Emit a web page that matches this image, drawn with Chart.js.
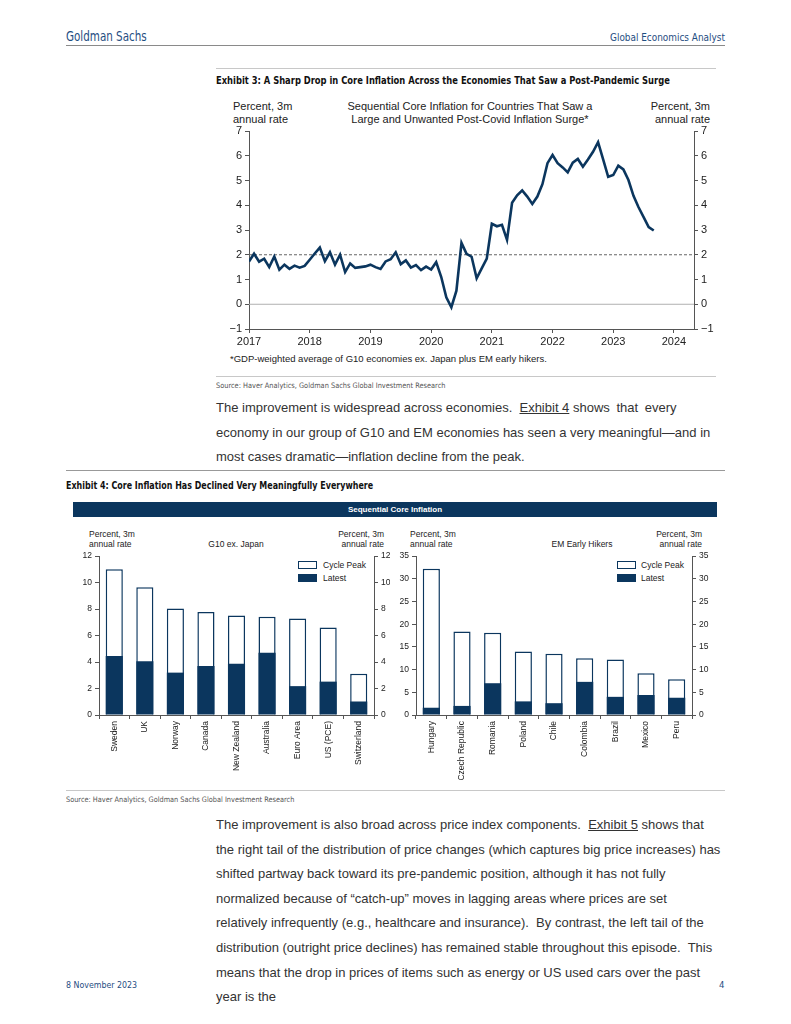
<!DOCTYPE html>
<html>
<head>
<meta charset="utf-8">
<script src="https://cdn.jsdelivr.net/npm/chart.js@4.4.0/dist/chart.umd.min.js"></script>
<style>
  body { margin:0; width:791px; height:1024px; position:relative; overflow:hidden; background:#fff;
         font-family:"Liberation Sans", Arial, sans-serif; color:#222; }
  .abs { position:absolute; white-space:nowrap; }
  .narrow { font-family:"DejaVu Sans Condensed", "Liberation Sans", sans-serif; transform-origin:0 50%; }
  .rule { position:absolute; height:0; }
  .body-text { font-size:13px; line-height:24.6px; color:#333; }
  .hd { font-size:11px; line-height:13px; color:#222; }
  .hd-s { font-size:8.5px; line-height:10px; color:#222; }
  .box { position:absolute; width:17px; height:6px; border:1px solid #0b365e; }
  canvas { position:absolute; }
  u { text-decoration:underline; }
</style>
</head>
<body>

<!-- page header -->
<div class="abs narrow" data-w="81" style="left:66px; top:28px; font-size:13.5px; color:#1f4e82;">Goldman Sachs</div>
<div class="abs narrow" data-w="115" style="left:610px; top:31px; font-size:10.5px; color:#1f4e82;">Global Economics Analyst</div>
<div class="rule" style="left:66px; top:45px; width:659px; border-top:1.5px solid #8a8a8a;"></div>

<!-- exhibit 3 -->
<div class="rule" style="left:216px; top:68px; width:500px; border-top:1px solid #c8c8c8;"></div>
<div class="abs narrow" data-w="454" style="left:216px; top:74px; font-size:11px; font-weight:bold; color:#111;">Exhibit 3: A Sharp Drop in Core Inflation Across the Economies That Saw a Post-Pandemic Surge</div>
<div class="abs hd" style="left:233px; top:100px;">Percent, 3m<br>annual rate</div>
<div class="abs hd" style="left:470px; top:100px; transform:translateX(-50%); text-align:center;">Sequential Core Inflation for Countries That Saw a<br>Large and Unwanted Post-Covid Inflation Surge*</div>
<div class="abs hd" style="right:81px; top:100px; text-align:right;">Percent, 3m<br>annual rate</div>
<canvas id="coreLine" width="500" height="229" style="left:216px; top:120px;"></canvas>
<div class="abs" style="left:230px; top:353px; font-size:9.5px; color:#222;">*GDP-weighted average of G10 economies ex. Japan plus EM early hikers.</div>
<div class="rule" style="left:216px; top:376px; width:500px; border-top:1px solid #c8c8c8;"></div>
<div class="abs narrow" data-w="229" style="left:216px; top:381px; font-size:7.5px; color:#555;">Source: Haver Analytics, Goldman Sachs Global Investment Research</div>

<div class="abs body-text" style="left:216px; top:396px;">The improvement is widespread across economies.&nbsp; <u>Exhibit 4</u> <span style="word-spacing:3px;">shows that every</span><br>economy in our group of G10 and EM economies has seen a very meaningful—and in<br>most cases dramatic—inflation decline from the peak.</div>

<!-- exhibit 4 -->
<div class="rule" style="left:66px; top:470px; width:659px; border-top:1px solid #999;"></div>
<div class="abs narrow" data-w="307" style="left:66px; top:479px; font-size:11px; font-weight:bold; color:#111;">Exhibit 4: Core Inflation Has Declined Very Meaningfully Everywhere</div>
<div class="abs" style="left:73px; top:502px; width:644px; height:15px; background:#0b365e; color:#fff; font-size:8px; font-weight:bold; line-height:15px; text-align:center;">Sequential Core Inflation</div>

<div class="abs hd-s" style="left:89px; top:529px;">Percent, 3m<br>annual rate</div>
<div class="abs hd-s" style="left:236px; top:539px; transform:translateX(-50%);">G10 ex. Japan</div>
<div class="abs hd-s" style="right:407px; top:529px; text-align:right;">Percent, 3m<br>annual rate</div>
<div class="box" style="left:298px; top:561px; background:#fff;"></div>
<div class="abs hd-s" style="left:323px; top:560px;">Cycle Peak</div>
<div class="box" style="left:298px; top:574px; background:#0b365e;"></div>
<div class="abs hd-s" style="left:323px; top:573px;">Latest</div>
<canvas id="g10Bars" width="324" height="237" style="left:66px; top:548px;"></canvas>

<div class="abs hd-s" style="left:410px; top:529px;">Percent, 3m<br>annual rate</div>
<div class="abs hd-s" style="left:582px; top:539px; transform:translateX(-50%);">EM Early Hikers</div>
<div class="abs hd-s" style="right:89px; top:529px; text-align:right;">Percent, 3m<br>annual rate</div>
<div class="box" style="left:617px; top:561px; background:#fff;"></div>
<div class="abs hd-s" style="left:641px; top:560px;">Cycle Peak</div>
<div class="box" style="left:617px; top:574px; background:#0b365e;"></div>
<div class="abs hd-s" style="left:641px; top:573px;">Latest</div>
<canvas id="emBars" width="330" height="237" style="left:390px; top:548px;"></canvas>

<div class="rule" style="left:66px; top:790px; width:659px; border-top:1px solid #c8c8c8;"></div>
<div class="abs narrow" data-w="228" style="left:66px; top:795px; font-size:7.5px; color:#555;">Source: Haver Analytics, Goldman Sachs Global Investment Research</div>

<div class="abs body-text" style="left:216px; top:813px;">The improvement is also broad across price index components.&nbsp; <u>Exhibit 5</u> shows that<br>the right tail of the distribution of price changes (which captures big price increases) has<br>shifted partway back toward its pre-pandemic position, although it has not fully<br>normalized because of “catch-up” moves in lagging areas where prices are set<br>relatively infrequently (e.g., healthcare and insurance).&nbsp; By contrast, the left tail of the<br>distribution (outright price declines) has remained stable throughout this episode.&nbsp; This<br>means that the drop in prices of items such as energy or US used cars over the past<br>year is the</div>

<!-- footer -->
<div class="abs narrow" data-w="71" style="left:66px; top:979px; font-size:9.5px; color:#1f4e82;">8 November 2023</div>
<div class="abs narrow" style="left:719px; top:979px; font-size:9.5px; color:#1f4e82;">4</div>

<script>
// Exhibit 3: monthly, Jan 2017 .. Sep 2023
const startYear = 2017;
const coreInflation = [
  1.73, 2.04, 1.72, 1.84, 1.50, 1.93, 1.40, 1.60, 1.43, 1.56, 1.48, 1.55,
  1.80, 2.05, 2.29, 1.74, 2.10, 1.60, 2.00, 1.30, 1.65, 1.47, 1.50, 1.53,
  1.60, 1.50, 1.43, 1.73, 1.82, 2.10, 1.62, 1.77, 1.48, 1.58, 1.38, 1.52,
  1.40, 1.70, 1.10, 0.28, -0.12, 0.55, 2.48, 2.04, 1.92, 1.05, 1.45, 1.84,
  3.25, 3.15, 3.21, 2.60, 4.10, 4.40, 4.60, 4.35, 4.05, 4.35, 4.85, 5.70,
  6.03, 5.70, 5.53, 5.33, 5.72, 5.87, 5.56, 5.85, 6.16, 6.55, 5.85, 5.15,
  5.22, 5.60, 5.45, 5.02, 4.38, 3.92, 3.52, 3.12, 2.98
];
const xEnd = 2024.33;

// Exhibit 4
const g10Countries = ['Sweden', 'UK', 'Norway', 'Canada', 'New Zealand', 'Australia', 'Euro Area', 'US (PCE)', 'Switzerland'];
const g10Peak   = [11.0, 9.65, 8.05, 7.78, 7.52, 7.42, 7.28, 6.6, 3.12];
const g10Latest = [4.45, 4.06, 3.2, 3.7, 3.87, 4.7, 2.18, 2.52, 1.02];

const emCountries = ['Hungary', 'Czech Republic', 'Romania', 'Poland', 'Chile', 'Colombia', 'Brazil', 'Mexico', 'Peru'];
const emPeak   = [32.2, 18.4, 18.1, 14.0, 13.5, 12.5, 12.2, 9.2, 7.9];
const emLatest = [1.6, 2.0, 7.0, 3.0, 2.6, 7.3, 4.0, 4.4, 3.8];

const NAVY = '#0b365e';
const AXIS = '#555';

// squeeze condensed header texts to the widths of the report font
document.querySelectorAll('[data-w]').forEach(el => {
  const k = Number(el.dataset.w) / el.offsetWidth;
  el.style.transform = 'scaleX(' + k.toFixed(3) + ')';
});

function minusLabel(v) {
  return v < 0 ? '\u2212' + Math.abs(v) : String(v);
}

function yAxis(pos, min, max, step, width, fontSize) {
  return {
    position: pos, min: min, max: max,
    border: { color: AXIS },
    grid: { drawOnChartArea: false, tickLength: 4, color: AXIS },
    ticks: { stepSize: step, color: '#222', font: { size: fontSize }, padding: 3, callback: minusLabel },
    afterFit: s => { s.width = width; }
  };
}

new Chart(document.getElementById('coreLine'), {
  type: 'line',
  data: {
    datasets: [
      {
        data: coreInflation.map((v, i) => ({ x: startYear + i / 12, y: v })),
        borderColor: NAVY, borderWidth: 2.6, pointRadius: 0, tension: 0, order: 0
      },
      {
        data: [{ x: startYear, y: 0 }, { x: xEnd, y: 0 }],
        borderColor: '#b0b0b0', borderWidth: 1, pointRadius: 0, order: 2
      },
      {
        data: [{ x: startYear, y: 2 }, { x: xEnd, y: 2 }],
        borderColor: '#666', borderWidth: 1, borderDash: [3, 2], pointRadius: 0, order: 1
      }
    ]
  },
  options: {
    responsive: false, animation: false,
    layout: { padding: { top: 11, bottom: 0, left: 0, right: 0 } },
    plugins: { legend: { display: false }, tooltip: { enabled: false } },
    scales: {
      x: {
        type: 'linear', min: startYear, max: xEnd,
        border: { color: AXIS },
        grid: { drawOnChartArea: false, tickLength: 4, color: AXIS },
        ticks: { stepSize: 1, includeBounds: false, color: '#222', font: { size: 11 }, padding: 2,
                 maxRotation: 0, callback: v => String(v) },
        afterFit: s => { s.height = 20; }
      },
      y: yAxis('left', -1, 7, 1, 33, 11),
      y2: yAxis('right', -1, 7, 1, 22, 11)
    }
  }
});

function barChart(id, cats, peak, latest, ymax, step, leftW, rightW) {
  new Chart(document.getElementById(id), {
    type: 'bar',
    data: {
      labels: cats,
      datasets: [
        { label: 'Latest', data: latest, backgroundColor: NAVY, borderWidth: 0,
          barPercentage: 0.56, categoryPercentage: 1, order: 0 },
        { label: 'Cycle Peak', data: peak, backgroundColor: '#fff', borderColor: NAVY, borderWidth: 1.5,
          barPercentage: 0.56, categoryPercentage: 1, order: 1 }
      ]
    },
    options: {
      responsive: false, animation: false,
      layout: { padding: { top: 5, bottom: 0, left: 0, right: 0 } },
      plugins: { legend: { display: false }, tooltip: { enabled: false } },
      scales: {
        x: {
          stacked: true,
          border: { color: AXIS },
          grid: { drawOnChartArea: false, tickLength: 4, color: AXIS },
          ticks: { autoSkip: false, minRotation: 90, maxRotation: 90, color: '#222', font: { size: 8.5 }, padding: 2 },
          afterFit: s => { s.height = 70; }
        },
        y: yAxis('left', 0, ymax, step, leftW, 8.5),
        y2: yAxis('right', 0, ymax, step, rightW, 8.5)
      }
    }
  });
}

barChart('g10Bars', g10Countries, g10Peak, g10Latest, 12, 2, 33, 16);
barChart('emBars', emCountries, emPeak, emLatest, 35, 5, 26, 28);
</script>
</body>
</html>
